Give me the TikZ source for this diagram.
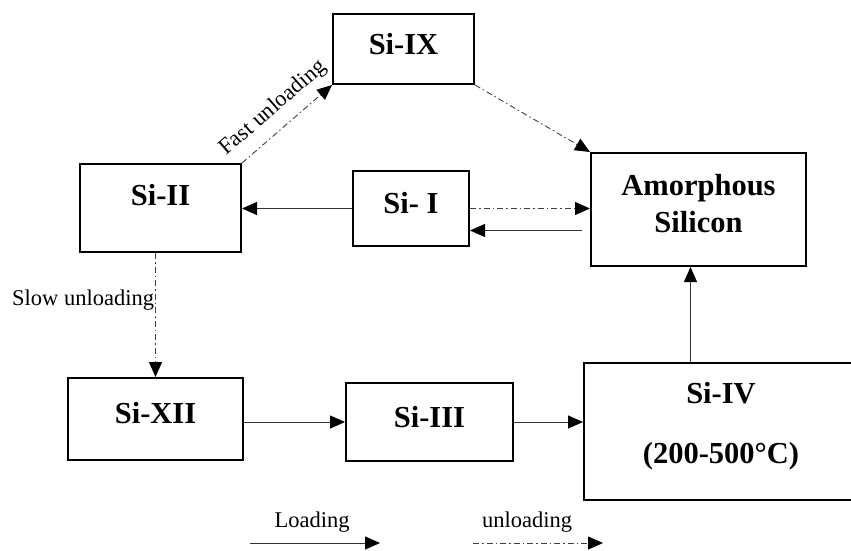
\documentclass[tikz,border=0pt]{standalone}
\usepackage{fontspec}
\setmainfont{Liberation Serif}
\usetikzlibrary{arrows.meta}
\tikzset{
    %Define style for the phase boxes
    phase/.style={
           rectangle,
           draw=black, line width=2pt,
           inner sep=0pt,
           text height=21pt,
           font=\fontsize{30.5}{37}\selectfont\bfseries},
    % Define arrow styles
    load/.style={
           -{Triangle[length=15pt,width=13pt,color=black]},
           line width=0.9pt, draw=black!80},
    unload/.style={
           -{Triangle[length=15pt,width=13pt,color=black]},
           line width=0.9pt, draw=black!75,
           dash pattern=on 6pt off 3pt on 1.5pt off 3pt},
    note/.style={
           font=\fontsize{22.5}{27}\selectfont}
}
\begin{document}
\begin{tikzpicture}[x=1pt,y=-1pt]
\useasboundingbox (0,0) rectangle (851,550);
\clip (0,0) rectangle (851,550);
\node[phase, minimum width=141pt, minimum height=70pt, text depth=11pt] (ix) at (403.5,49) {Si-IX};
\node[phase, minimum width=161pt, minimum height=88pt, text depth=27pt] (ii) at (160.5,208) {Si-II};
\node[phase, minimum width=116pt, minimum height=75pt, text depth=12pt] (si1) at (411,208.5) {Si- I};
\node[phase, minimum width=215pt, minimum height=113pt, text height=60pt, text depth=15pt] (amor) at (698.5,209.5)
    {\begin{tabular}[b]{@{}c@{}}Amorphous\\Silicon\end{tabular}};
\node[phase, minimum width=175pt, minimum height=82pt, text depth=13pt] (xii) at (155.5,419) {Si-XII};
\node[phase, minimum width=167pt, minimum height=78pt, text depth=11pt] (iii) at (429.5,422) {Si-III};
\node[phase, minimum width=274pt, minimum height=137pt, text height=75pt, text depth=12pt] (si4) at (721,431.5)
    {\begin{tabular}[b]{@{}c@{}}Si-IV\\[23pt](200-500°C)\end{tabular}};
% loading paths
\draw[load] (si1.west) -- (ii.east |- si1.west);
\draw[load, shorten <=8pt] ([yshift=-22pt]si1.east -| amor.west) -- ([yshift=-22pt]si1.east);
\draw[load] (xii.east |- iii.west) -- (iii.west);
\draw[load] (iii.east) -- (iii.east -| si4.west);
\draw[load] ([xshift=-8pt]amor.south |- si4.north) -- ([xshift=-8pt]amor.south);
% unloading paths
\draw[unload] (ii.north east) -- node[note, sloped, above=7pt] {Fast unloading} (ix.south west);
\draw[unload] (ix.south east) -- (amor.north west);
\draw[unload] (si1.east) -- (si1.east -| amor.west);
\draw[unload] (ii.south -| xii.north) -- node[note, left, inner sep=1pt, pos=.38] {Slow unloading} (xii.north);
% legend
\coordinate (ld1) at (250,543);
\coordinate (ld2) at (380,543);
\coordinate (ul1) at (473,543);
\coordinate (ul2) at (603,543);
\node[note] (ldtxt) at (312,522) {Loading};
\node[note] (ultxt) at (527,522) {unloading};
\draw[load] (ld1) -- (ld2);
\draw[unload] (ul1) -- (ul2);
\end{tikzpicture}
\end{document}
